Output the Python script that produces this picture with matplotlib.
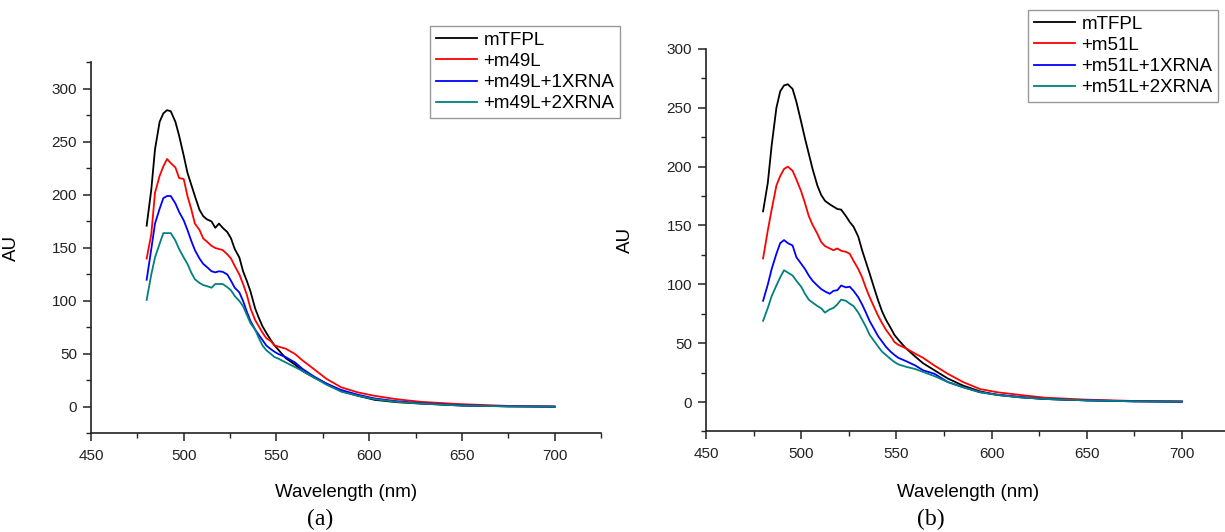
import matplotlib
matplotlib.use("Agg")
import matplotlib.pyplot as plt
from matplotlib.ticker import MultipleLocator

plt.rcParams["font.family"] = ["Liberation Sans", "DejaVu Sans"]

# Wavelength sampling (nm), shared by all spectra
wavelength = [480, 482.5, 484.5, 487, 489, 491, 493, 495.5, 497.5, 500,
              502, 504, 506, 508.5, 510.5, 512.5, 515, 517, 519, 521,
              523.5, 525.5, 527.5, 530, 532, 534, 536, 538.5, 540.5, 542.5,
              544.5, 547, 549, 551, 555, 560, 564, 570, 577, 585,
              594, 603, 615, 628, 650, 675, 700]

# Panel (a): m49L series
a_mtfpl = [171, 205, 243, 269, 277, 280, 279, 269, 256, 237,
           221, 210, 199, 186, 180, 177, 175, 169, 173, 169,
           165, 159, 149, 141, 128, 119, 109, 93, 84, 76,
           70, 63, 58, 54, 46, 40, 34, 28, 22, 15,
           10.5, 6.7, 4.5, 3.2, 1.3, 0.6, 0.3]
a_m49l = [140, 163, 202, 218, 227, 234, 230, 226, 216, 215,
          199, 187, 173, 167, 159, 156, 152, 150, 149, 148,
          144, 140, 133, 125, 116, 106, 93, 82, 76, 70,
          65, 62, 58, 57, 55, 50, 44, 36, 26.5, 18.5,
          13.7, 10.5, 7.3, 4.8, 2.6, 1.0, 0.4]
a_m49l_1x = [120, 149, 173, 187, 197, 199, 199, 192, 184, 176,
             167, 157, 148, 140, 135, 132, 128, 127, 128, 127.5,
             125, 119, 112.5, 108, 100, 90, 81, 73, 68, 63,
             58, 54.5, 52, 50, 47, 42, 36, 29, 22, 16,
             11.5, 8, 5.4, 3.5, 1.6, 0.6, 0.3]
a_m49l_2x = [101, 125, 141, 154, 164, 164, 164, 157, 149, 141,
             135, 127, 120.5, 117, 115, 114, 112.5, 116, 116, 116,
             113, 110, 104.6, 100, 95, 87, 79, 73, 65, 58,
             53.6, 50, 47, 45.6, 42, 37.6, 34, 28, 21, 14.4,
             10.5, 7.3, 4.8, 3.2, 1.3, 0.6, 0.3]

# Panel (b): m51L series
b_mtfpl = [162, 186.5, 218, 250, 264, 269, 270, 266, 255, 238,
           224, 211, 198, 184, 176, 171, 168, 166, 164, 163.5,
           158, 153, 149, 140.5, 129, 119, 109, 96, 86, 77,
           70, 63, 57, 53, 45.7, 38.5, 33, 27, 20, 14,
           9, 6, 4, 2.6, 1.4, 0.6, 0.3]
b_m51l = [122, 146, 163.5, 184, 192, 198, 200, 196.5, 189, 179,
          169, 158, 150.5, 143, 136, 132.5, 130.5, 129, 130.5, 128.5,
          127.6, 126, 120, 113, 106, 97, 89, 80, 73, 67,
          61.5, 56, 51, 48.6, 45.7, 41, 37.6, 31, 24, 17,
          11, 8.3, 6, 3.7, 2, 0.9, 0.5]
b_m51l_1x = [86, 100, 113, 126, 135, 137.6, 135, 133, 123, 117.5,
             113, 107.5, 103, 99, 96, 94, 92, 94.5, 95, 99,
             97.4, 98, 94.5, 89, 83, 76, 68.7, 61.5, 55.7, 51.4,
             47, 42.8, 40, 37.6, 34.8, 31, 27, 24, 17, 12.6,
             8.3, 6.3, 4.3, 2.6, 1.4, 0.6, 0.3]
b_m51l_2x = [69, 80, 90, 99, 106, 112, 110, 107.5, 103, 98,
             92, 87, 84.5, 81.6, 79.6, 76, 78.7, 80, 83, 87,
             86, 83.6, 81.6, 76, 70, 64, 57, 51.4, 47, 42.8,
             40, 36.5, 34, 32, 30, 28, 25.6, 22, 17, 12.6,
             8.3, 6, 4, 2.6, 1.4, 0.6, 0.3]

labels_a = ["mTFPL", "+m49L", "+m49L+1XRNA", "+m49L+2XRNA"]
labels_b = ["mTFPL", "+m51L", "+m51L+1XRNA", "+m51L+2XRNA"]
colors = ["#000000", "#ff0000", "#0000ff", "#008080"]

fig = plt.figure(figsize=(12.25, 5.32), dpi=100)
ax_a = fig.add_axes([0.0743, 0.1852, 0.4163, 0.6974])
ax_b = fig.add_axes([0.5763, 0.189, 0.4274, 0.719])


def style_axis(ax, ymax):
    ax.set_xlim(450, 725)
    ax.set_ylim(-25, ymax)
    ax.xaxis.set_major_locator(MultipleLocator(50))
    ax.xaxis.set_minor_locator(MultipleLocator(25))
    ax.yaxis.set_major_locator(MultipleLocator(50))
    ax.yaxis.set_minor_locator(MultipleLocator(25))
    for side in ("top", "right"):
        ax.spines[side].set_visible(False)
    for side in ("left", "bottom"):
        ax.spines[side].set_linewidth(1.2)
        ax.spines[side].set_color("#222222")
    ax.tick_params(axis="both", which="major", direction="out", length=6,
                   width=1.1, labelsize=11, colors="#222222")
    ax.tick_params(axis="both", which="minor", direction="out", length=3.5,
                   width=1.0, colors="#222222")
    ax.tick_params(axis="x", which="major", pad=5)
    ax.tick_params(axis="y", which="major", pad=4)
    ax.set_yticks(range(0, 301, 50))
    ax.set_xlabel("Wavelength (nm)", fontsize=13.5)
    ax.set_ylabel("AU", fontsize=13.5)


def draw_panel(ax, series, labels, ymax, anchor):
    for values, label, color in zip(series, labels, colors):
        ax.plot(wavelength, values, color=color, lw=1.3, label=label)
    style_axis(ax, ymax)
    leg = ax.legend(loc="upper left", bbox_to_anchor=anchor,
                    bbox_transform=fig.transFigure, fontsize=13.5,
                    frameon=True, fancybox=False, borderaxespad=0,
                    borderpad=0.3, labelspacing=0.22, handlelength=2.2,
                    handletextpad=0.35)
    leg.get_frame().set_edgecolor("#808080")
    leg.get_frame().set_linewidth(1.0)


draw_panel(ax_a, [a_mtfpl, a_m49l, a_m49l_1x, a_m49l_2x], labels_a, 325,
           (430 / 1225, 1 - 26 / 532))
draw_panel(ax_b, [b_mtfpl, b_m51l, b_m51l_1x, b_m51l_2x], labels_b, 300,
           (1028 / 1225, 1 - 10 / 532))

ax_a.yaxis.set_label_coords(-0.139, 0.5)
ax_a.xaxis.set_label_coords(0.5, -0.136)
ax_b.yaxis.set_label_coords(-0.138, 0.5)
ax_b.xaxis.set_label_coords(0.5, -0.1375)

fig.text(320 / 1225, 1 - 519 / 532, "(a)", ha="center", va="center",
         fontsize=17, family=["Liberation Serif", "DejaVu Serif"])
fig.text(931 / 1225, 1 - 519 / 532, "(b)", ha="center", va="center",
         fontsize=17, family=["Liberation Serif", "DejaVu Serif"])

fig.savefig("out.png", dpi=100)
